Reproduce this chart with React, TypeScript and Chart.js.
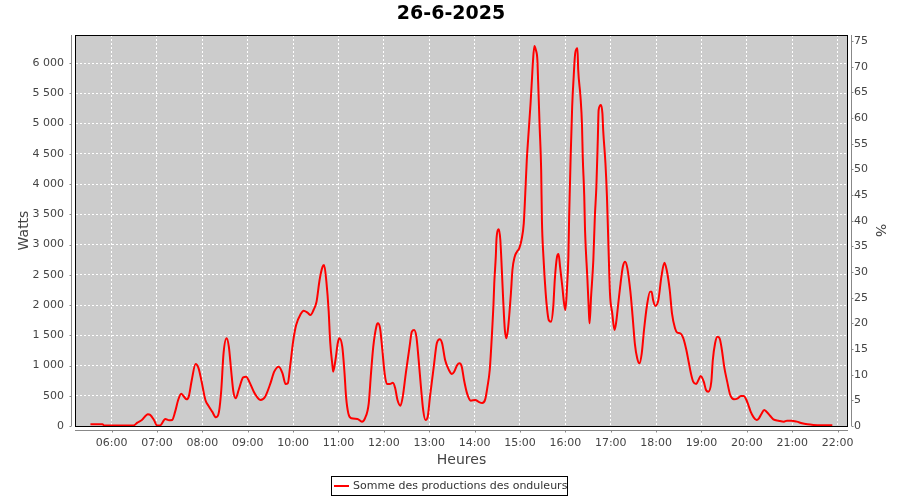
import React, { useEffect, useRef } from 'react';
import { Chart, registerables } from 'chart.js';

Chart.register(...registerables);

const chartTitle = '26-6-2025';
const seriesLabel = 'Somme des productions des onduleurs';
const leftAxisTitle = 'Watts';
const rightAxisTitle = '%';
const xAxisTitle = 'Heures';

const hourTicks = [6, 7, 8, 9, 10, 11, 12, 13, 14, 15, 16, 17, 18, 19, 20, 21, 22];
const wattTicks = [0, 500, 1000, 1500, 2000, 2500, 3000, 3500, 4000, 4500, 5000, 5500, 6000];
const percentTicks = [0, 5, 10, 15, 20, 25, 30, 35, 40, 45, 50, 55, 60, 65, 70, 75];

const times = [
  '05:32', '05:48', '05:50', '06:29', '06:34', '06:40', '06:48', '06:51', '06:56', '07:00',
  '07:04', '07:11', '07:16', '07:20', '07:24', '07:28', '07:32', '07:35', '07:39', '07:42',
  '07:46', '07:51', '07:55', '07:59', '08:04', '08:08', '08:13', '08:18', '08:22', '08:25',
  '08:28', '08:32', '08:35', '08:38', '08:41', '08:44', '08:48', '08:54', '08:58', '09:02',
  '09:08', '09:12', '09:17', '09:23', '09:30', '09:35', '09:41', '09:46', '09:50', '09:53',
  '09:56', '10:00', '10:04', '10:10', '10:14', '10:19', '10:23', '10:27', '10:31', '10:35',
  '10:39', '10:41', '10:44', '10:47', '10:49', '10:52', '10:53', '10:56', '10:59', '11:01',
  '11:05', '11:08', '11:10', '11:13', '11:17', '11:25', '11:31', '11:35', '11:40', '11:43',
  '11:46', '11:50', '11:52', '11:55', '11:58', '12:01', '12:04', '12:08', '12:12', '12:15',
  '12:18', '12:22', '12:25', '12:29', '12:34', '12:37', '12:40', '12:43', '12:46', '12:49',
  '12:52', '12:55', '12:58', '13:01', '13:06', '13:10', '13:14', '13:17', '13:21', '13:26',
  '13:30', '13:33', '13:37', '13:40', '13:43', '13:46', '13:50', '13:55', '14:01', '14:05',
  '14:10', '14:14', '14:17', '14:20', '14:22', '14:25', '14:26', '14:28', '14:29', '14:32',
  '14:34', '14:36', '14:38', '14:40', '14:42', '14:44', '14:46', '14:48', '14:50', '14:53',
  '14:56', '14:59', '15:02', '15:05', '15:07', '15:09', '15:11', '15:14', '15:16', '15:17',
  '15:19', '15:21', '15:23', '15:24', '15:26', '15:28', '15:29', '15:31', '15:34', '15:36',
  '15:38', '15:41', '15:44', '15:46', '15:49', '15:51', '15:53', '15:56', '15:58', '16:00',
  '16:02', '16:04', '16:05', '16:07', '16:09', '16:11', '16:13', '16:16', '16:17', '16:20',
  '16:22', '16:23', '16:25', '16:26', '16:29', '16:31', '16:32', '16:34', '16:37', '16:39',
  '16:41', '16:43', '16:44', '16:47', '16:49', '16:50', '16:53', '16:55', '16:57', '16:59',
  '17:02', '17:05', '17:07', '17:10', '17:13', '17:16', '17:19', '17:22', '17:26', '17:29',
  '17:32', '17:35', '17:38', '17:41', '17:44', '17:48', '17:52', '17:54', '17:56', '17:59',
  '18:03', '18:07', '18:11', '18:14', '18:18', '18:21', '18:25', '18:28', '18:32', '18:36',
  '18:40', '18:43', '18:46', '18:49', '18:53', '18:56', '18:59', '19:03', '19:06', '19:09',
  '19:13', '19:15', '19:18', '19:21', '19:24', '19:27', '19:30', '19:34', '19:38', '19:43',
  '19:48', '19:52', '19:56', '19:59', '20:02', '20:05', '20:09', '20:13', '20:16', '20:19',
  '20:23', '20:26', '20:31', '20:35', '20:42', '20:49', '20:53', '20:59', '21:06', '21:13',
  '21:20', '21:28', '21:37', '21:53',
];

const watts = [
  28, 28, 10, 10, 55, 99, 193, 185, 99, 10,
  10, 116, 94, 99, 237, 430, 534, 496, 441, 485,
  760, 1025, 953, 733, 430, 336, 237, 143, 237, 595,
  1201, 1449, 1311, 926, 567, 457, 595, 804, 815, 733,
  567, 485, 430, 485, 705, 898, 981, 871, 694, 705,
  981, 1394, 1669, 1851, 1906, 1873, 1835, 1917, 2055, 2413,
  2633, 2661, 2385, 1900, 1394, 1000, 898, 1091, 1367, 1449,
  1311, 871, 485, 209, 127, 116, 72, 127, 375, 871,
  1311, 1642, 1697, 1614, 1256, 871, 694, 694, 716, 623,
  430, 336, 485, 871, 1311, 1559, 1587, 1476, 1091, 650,
  264, 99, 154, 485, 981, 1367, 1432, 1367, 1091, 926,
  860, 898, 1008, 1036, 981, 760, 540, 419, 430, 402,
  380, 440, 650, 926, 1311, 2028, 2359, 2799, 3102, 3251,
  3074, 2579, 2028, 1587, 1449, 1587, 1862, 2193, 2579, 2799,
  2881, 2937, 3074, 3350, 3846, 4397, 4782, 5334, 5774, 5995,
  6281, 6215, 6050, 5691, 4948, 4231, 3405, 2799, 2193, 1917,
  1752, 1724, 1972, 2413, 2799, 2843, 2633, 2303, 2055, 1917,
  2248, 2799, 3460, 4452, 5278, 5774, 6160, 6243, 5884, 5443,
  4975, 4452, 3791, 3240, 2468, 1917, 1697, 2138, 2744, 3460,
  3956, 4782, 5223, 5306, 5168, 4893, 4342, 3791, 2964, 2193,
  1862, 1587, 1697, 2028, 2359, 2633, 2716, 2606, 2220, 1800,
  1350, 1120, 1036, 1201, 1587, 2000, 2220, 2220, 2083, 1984,
  2083, 2468, 2699, 2579, 2248, 1862, 1615, 1543, 1532, 1449,
  1256, 1063, 871, 733, 694, 760, 826, 733, 595, 567,
  733, 1091, 1367, 1476, 1449, 1256, 981, 733, 512, 441,
  457, 496, 496, 441, 347, 237, 143, 99, 127, 193,
  264, 237, 165, 110, 88, 72, 88, 88, 72, 44,
  28, 17, 11, 11,
];

const FONT = '"DejaVu Sans", sans-serif';
const TEXT = '#444444';
const AXIS = '#888888';

const toHours = (t: string) => {
  const [h, m] = t.split(':').map(Number);
  return h + m / 60;
};

const fmtThousands = (v: number) => String(v).replace(/\B(?=(\d{3})+(?!\d))/g, ' ');

const decorPlugin = {
  id: 'decor',
  beforeDraw(chart: any) {
    const { ctx, chartArea: a } = chart;
    ctx.save();
    ctx.fillStyle = '#cccccc';
    ctx.fillRect(a.left, a.top, a.right - a.left, a.bottom - a.top);
    ctx.restore();
  },
  afterDraw(chart: any) {
    const { ctx, chartArea: a, scales } = chart;
    ctx.save();
    // plot border
    ctx.strokeStyle = '#000000';
    ctx.lineWidth = 1;
    ctx.strokeRect(a.left - 0.5, a.top + 0.5, a.right - a.left + 1, a.bottom - a.top);

    // offset axis lines
    ctx.strokeStyle = AXIS;
    ctx.beginPath();
    const lx = a.left - 4.5;
    ctx.moveTo(lx, a.top);
    ctx.lineTo(lx, a.bottom);
    wattTicks.forEach((v) => {
      const y = Math.round(scales.y.getPixelForValue(v)) + 0.5;
      ctx.moveTo(lx - 2, y);
      ctx.lineTo(lx, y);
    });
    const rx = a.right + 4.5;
    ctx.moveTo(rx, a.top);
    ctx.lineTo(rx, a.bottom);
    percentTicks.forEach((v) => {
      const y = Math.round(scales.y1.getPixelForValue(v)) + 0.5;
      ctx.moveTo(rx, y);
      ctx.lineTo(rx + 2, y);
    });
    const by = a.bottom + 4.5;
    ctx.moveTo(a.left - 1, by);
    ctx.lineTo(a.right + 1, by);
    hourTicks.forEach((v) => {
      const x = Math.round(scales.x.getPixelForValue(v)) + 0.5;
      ctx.moveTo(x, by);
      ctx.lineTo(x, by + 2);
    });
    ctx.stroke();

    // chart title
    ctx.fillStyle = '#000000';
    ctx.font = `bold 19px ${FONT}`;
    ctx.textAlign = 'center';
    ctx.textBaseline = 'middle';
    ctx.fillText(chartTitle, 451, 14);

    // axis titles
    ctx.fillStyle = TEXT;
    ctx.font = `14px ${FONT}`;
    const midY = (a.top + a.bottom) / 2;
    ctx.save();
    ctx.translate(24, midY);
    ctx.rotate(-Math.PI / 2);
    ctx.fillText(leftAxisTitle, 0, 0);
    ctx.restore();
    ctx.save();
    ctx.translate(880, midY);
    ctx.rotate(Math.PI / 2);
    ctx.fillText(rightAxisTitle, 0, 0);
    ctx.restore();
    ctx.fillText(xAxisTitle, (a.left + a.right) / 2, 460);

    // legend
    ctx.strokeStyle = '#000000';
    ctx.lineWidth = 1;
    ctx.strokeRect(331.5, 476.5, 236, 19);
    ctx.strokeStyle = '#ff0000';
    ctx.lineWidth = 2;
    ctx.beginPath();
    ctx.moveTo(334, 486);
    ctx.lineTo(349, 486);
    ctx.stroke();
    ctx.fillStyle = '#333333';
    ctx.font = `11px ${FONT}`;
    ctx.textAlign = 'left';
    ctx.fillText(seriesLabel, 353, 486.5);
    ctx.restore();
  },
};

export default function App() {
  const ref = useRef<HTMLCanvasElement | null>(null);

  useEffect(() => {
    if (!ref.current) return;
    const points = times.map((t, i) => ({ x: toHours(t), y: watts[i] }));
    const tickFont = { family: FONT, size: 11 };
    const chart = new Chart(ref.current, {
      type: 'line',
      data: {
        datasets: [
          {
            label: seriesLabel,
            data: points,
            borderColor: '#ff0000',
            backgroundColor: '#ff0000',
            borderWidth: 2,
            pointRadius: 0,
            cubicInterpolationMode: 'monotone',
            fill: false,
            yAxisID: 'y',
          },
        ],
      },
      options: {
        animation: false,
        responsive: true,
        maintainAspectRatio: false,
        layout: { padding: { top: 35, left: 0, right: 0, bottom: 0 } },
        plugins: {
          legend: { display: false },
          title: { display: false },
          tooltip: { enabled: false },
        },
        scales: {
          x: {
            type: 'linear',
            min: 5.215,
            max: 22.207,
            afterBuildTicks: (s: any) => {
              s.ticks = hourTicks.map((v) => ({ value: v }));
            },
            afterFit: (s: any) => {
              s.height = 74;
            },
            ticks: {
              autoSkip: false,
              maxRotation: 0,
              padding: 11,
              color: TEXT,
              font: tickFont,
              callback: (v: any) => String(v).padStart(2, '0') + ':00',
            },
            grid: { color: '#ffffff', lineWidth: 1, drawTicks: false },
            border: { display: false, dash: [2, 2] },
          },
          y: {
            type: 'linear',
            position: 'left',
            min: 0,
            max: 6463,
            afterBuildTicks: (s: any) => {
              s.ticks = wattTicks.map((v) => ({ value: v }));
            },
            afterFit: (s: any) => {
              s.width = 76;
            },
            ticks: {
              padding: 12,
              color: TEXT,
              font: tickFont,
              callback: (v: any) => fmtThousands(Number(v)),
            },
            grid: { color: '#ffffff', lineWidth: 1, drawTicks: false },
            border: { display: false, dash: [2, 2] },
          },
          y1: {
            type: 'linear',
            position: 'right',
            min: 0,
            max: 76.17,
            afterBuildTicks: (s: any) => {
              s.ticks = percentTicks.map((v) => ({ value: v }));
            },
            afterFit: (s: any) => {
              s.width = 53;
            },
            ticks: {
              padding: 7,
              color: TEXT,
              font: tickFont,
              callback: (v: any) => String(v),
            },
            grid: { display: false, drawTicks: false },
            border: { display: false },
          },
        },
      },
      plugins: [decorPlugin],
    });
    return () => chart.destroy();
  }, []);

  return (
    <div style={{ position: 'absolute', left: 0, top: 0, width: 900, height: 500, background: '#ffffff' }}>
      <canvas ref={ref} />
    </div>
  );
}
